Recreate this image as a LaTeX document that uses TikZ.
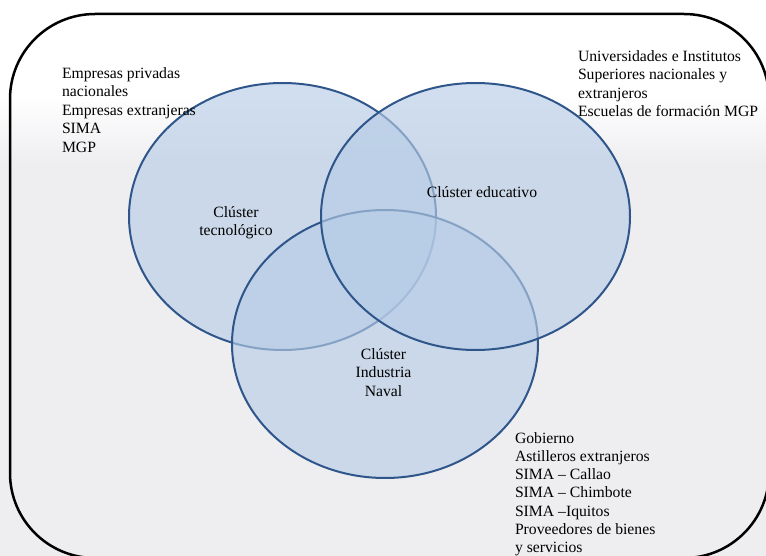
\documentclass[tikz,border=0pt]{standalone}
\usepackage{fontspec}
\setmainfont{Liberation Serif}
\usetikzlibrary{shapes.geometric}
\definecolor{vennline}{RGB}{47,86,138}
\definecolor{vennfill}{RGB}{182,204,230}
\definecolor{paper}{RGB}{238,238,241}
\begin{document}
\begin{tikzpicture}[x=1pt,y=-1pt,
  every node/.style={inner sep=0pt,outer sep=0pt,font=\fontsize{15.7}{18.6}\selectfont},
  venn/.style={ellipse,draw=vennline,line width=2pt,fill=vennfill,fill opacity=0.64,
               minimum width=#1},
  listtext/.style={align=left,anchor=north west},
  clabel/.style={align=center,anchor=north}]
\useasboundingbox (0,0) rectangle (766,556);
\begin{scope}
  \clip (0,0) rectangle (766,556);
  % soft grey paper tone behind the lower part of the frame
  \shade[top color=white,bottom color=paper] (0,95) rectangle (766,165);
  \fill[paper] (0,165) rectangle (766,556);
  % outer frame
  \draw[line width=2.5pt,rounded corners=85pt] (10,14) rectangle (769,558);
\end{scope}

% the three clusters
\node[venn=307pt,minimum height=267pt] (tec) at (282.5,216.5) {};
\node[venn=306pt,minimum height=268pt] (nav) at (385,344) {};
\node[venn=309pt,minimum height=267pt] (edu) at (475.5,216.5) {};

\node[clabel] (tecl) at (236,206.4) {Clúster\\tecnológico};
\node[anchor=base] (edul) at (482,198) {Clúster educativo};
\node[clabel] (navl) at (383.5,348.4) {Clúster\\Industria\\Naval};

% members of each cluster
\node[listtext] (tecm) at (62,67.2) {Empresas privadas\\nacionales\\Empresas extranjeras\\SIMA\\MGP};
\node[listtext] (edum) at (578,50.2) {Universidades e Institutos\\Superiores nacionales y\\extranjeros\\Escuelas de formación MGP};
\node[listtext,font=\fontsize{15.7}{18.1}\selectfont] (navm) at (515,432.8) {Gobierno\\Astilleros extranjeros\\SIMA – Callao\\SIMA – Chimbote\\SIMA –Iquitos\\Proveedores de bienes\\y servicios};
\end{tikzpicture}
\end{document}
